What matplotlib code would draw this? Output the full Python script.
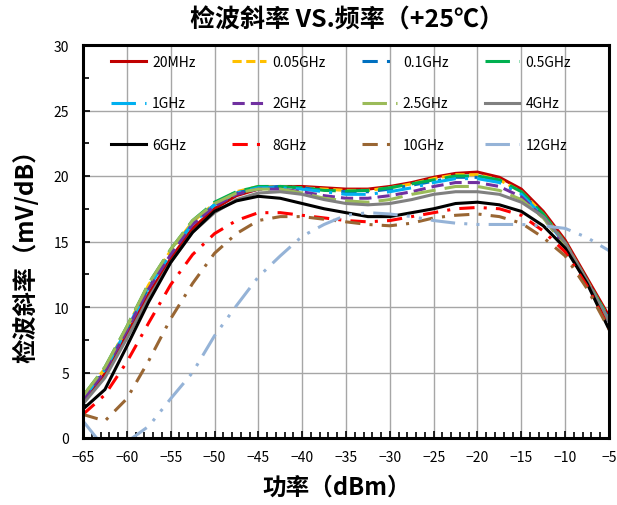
# -*- coding: utf-8 -*-
#------------------------------------------------------------------------------
# Import libraries

import matplotlib
matplotlib.use("Agg")
import matplotlib.pyplot as plt
from matplotlib.ticker import MultipleLocator

plt.rcParams['font.family'] = ['Noto Sans CJK SC', 'DejaVu Sans']

#------------------------------------------------------------------------------
# Data

power = [-65, -62.5, -60, -57.5, -55, -52.5, -50, -47.5, -45, -42.5, -40,
         -37.5, -35, -32.5, -30, -27.5, -25, -22.5, -20, -17.5, -15, -12.5,
         -10, -7.5, -5]

s_20mhz = [2.8, 4.9, 7.9, 11.0, 13.7, 16.0, 17.5, 18.5, 19.0, 19.2, 19.2, 19.1,
           19.0, 19.0, 19.2, 19.5, 19.9, 20.2, 20.3, 19.9, 19.0, 17.3, 15.1, 12.2, 9.3]
s_005 = [3.2, 5.3, 8.4, 11.7, 14.3, 16.5, 17.9, 18.8, 19.2, 19.2, 19.1, 19.0,
         18.9, 18.9, 19.1, 19.4, 19.8, 20.1, 20.1, 19.7, 18.8, 17.1, 14.9, 12.0, 9.1]
s_01 = [3.0, 5.2, 8.3, 11.5, 14.1, 16.4, 17.8, 18.7, 19.1, 19.2, 19.1, 18.9,
        18.8, 18.8, 19.0, 19.3, 19.6, 19.9, 19.9, 19.6, 18.7, 17.0, 14.8, 11.9, 9.0]
s_05 = [3.2, 5.4, 8.5, 11.8, 14.4, 16.6, 18.0, 18.8, 19.2, 19.2, 19.1, 18.9,
        18.85, 18.9, 19.1, 19.4, 19.7, 20.0, 20.0, 19.7, 18.8, 17.1, 14.9, 12.0, 9.1]
s_1 = [3.0, 5.2, 8.3, 11.5, 14.1, 16.4, 17.8, 18.7, 19.1, 19.1, 19.0, 18.8,
       18.6, 18.6, 18.8, 19.1, 19.5, 19.8, 19.8, 19.5, 18.6, 16.9, 14.8, 11.9, 9.0]
s_2 = [2.9, 5.1, 8.2, 11.4, 14.0, 16.3, 17.7, 18.6, 19.0, 19.0, 18.8, 18.5,
       18.3, 18.3, 18.5, 18.8, 19.2, 19.5, 19.5, 19.2, 18.4, 16.8, 14.7, 11.8, 8.9]
s_25 = [3.2, 5.4, 8.5, 11.8, 14.4, 16.6, 17.9, 18.7, 19.0, 19.0, 18.7, 18.3,
        18.1, 18.0, 18.2, 18.6, 18.9, 19.2, 19.2, 18.9, 18.2, 16.8, 14.7, 11.8, 8.9]
s_4 = [2.6, 4.6, 7.6, 10.7, 13.4, 15.7, 17.2, 18.2, 18.7, 18.8, 18.6, 18.2,
       17.9, 17.8, 17.9, 18.2, 18.6, 18.8, 18.8, 18.6, 18.0, 16.9, 14.9, 12.0, 8.9]
s_6 = [2.2, 3.7, 7.0, 10.4, 13.4, 15.7, 17.3, 18.1, 18.45, 18.3, 17.9, 17.5,
       17.2, 16.9, 16.9, 17.2, 17.5, 17.9, 18.0, 17.8, 17.3, 16.2, 14.5, 11.8, 8.3]
s_8 = [1.8, 3.3, 5.8, 8.8, 11.7, 14.0, 15.6, 16.6, 17.2, 17.2, 17.0, 16.8,
       16.6, 16.5, 16.6, 16.9, 17.2, 17.5, 17.6, 17.5, 17.0, 15.8, 14.2, 11.6, 8.4]
s_10 = [1.8, 1.3, 3.0, 5.9, 9.1, 11.8, 14.1, 15.6, 16.6, 16.9, 16.9, 16.7,
        16.5, 16.3, 16.2, 16.4, 16.8, 17.0, 17.1, 16.9, 16.4, 15.3, 13.9, 11.4, 8.3]
s_12 = [1.3, -0.8, -0.3, 0.9, 3.0, 5.0, 7.8, 10.1, 12.3, 13.9, 15.4, 16.3,
        17.0, 17.2, 17.1, 16.9, 16.6, 16.4, 16.3, 16.3, 16.3, 16.2, 16.0, 15.3, 14.3]

labels = ['20MHz', '0.05GHz', '0.1GHz', '0.5GHz',
          '1GHz', '2GHz', '2.5GHz', '4GHz',
          '6GHz', '8GHz', '10GHz', '12GHz']

#------------------------------------------------------------------------------
# Main method

def main():
    series = [s_20mhz, s_005, s_01, s_05, s_1, s_2, s_25, s_4, s_6, s_8, s_10, s_12]
    colors = ['#C00000', '#FFC000', '#0070C0', '#00B050',
              '#00B0F0', '#7030A0', '#9BBB59', '#808080',
              '#000000', '#FF0000', '#996633', '#95B3D7']
    styles = ['-', (0, (3, 1.5)), (0, (5, 3, 1, 3)), (0, (8, 3)),
              (0, (8, 3, 1, 3)), (0, (4, 2)), (0, (8, 3)), '-',
              '-', (0, (5, 3, 1, 3)), (0, (5, 3, 1, 3)), (0, (8, 3, 1, 3, 1, 3))]

    fig = plt.figure(figsize=(6.17, 5.06), dpi=100)
    ax = fig.add_axes([83 / 617, 1 - 439 / 506, 526 / 617, 393 / 506])

    handles = []
    for ys, c, ls, lab in zip(series, colors, styles, labels):
        h, = ax.plot(power, ys, color=c, linestyle=ls, linewidth=2.2, label=lab)
        handles.append(h)

    ax.set_xlim(-65, -5)
    ax.set_ylim(0, 30)
    ax.xaxis.set_major_locator(MultipleLocator(5))
    ax.xaxis.set_minor_locator(MultipleLocator(1))
    ax.yaxis.set_major_locator(MultipleLocator(5))
    ax.yaxis.set_minor_locator(MultipleLocator(2.5))
    ax.grid(True, which='major', color='#A6A6A6', linewidth=1.0)
    ax.set_axisbelow(True)
    ax.tick_params(axis='both', which='both', direction='in', labelsize=10, width=1.2)
    ax.tick_params(axis='both', which='major', length=5)
    ax.tick_params(axis='both', which='minor', length=4)
    ax.tick_params(axis='x', which='major', pad=9)
    ax.tick_params(axis='y', which='major', pad=10)
    for sp in ax.spines.values():
        sp.set_linewidth(2.2)

    # legend filled row by row like the original
    order = [0, 4, 8, 1, 5, 9, 2, 6, 10, 3, 7, 11]
    ax.legend([handles[i] for i in order], [labels[i] for i in order],
              ncol=4, loc='upper left', bbox_to_anchor=(0.035, 1.0),
              frameon=False, fontsize=10, handlelength=2.5, handletextpad=0.45,
              columnspacing=2.6, labelspacing=2.0, borderaxespad=0.3)

    fig.text(347 / 617, 1 - 20 / 506, '检波斜率 VS.频率（+25℃）', fontsize=18,
             fontweight='bold', ha='center', va='center')
    fig.text(337 / 617, 1 - 488 / 506, '功率（dBm）', fontsize=17,
             fontweight='bold', ha='center', va='center')
    fig.text(25 / 617, 1 - 250 / 506, '检波斜率（mV/dB）', fontsize=17.5,
             fontweight='bold', ha='center', va='center', rotation=90)

    fig.savefig('out.png', dpi=100)

#------------------------------------------------------------------------------
# Start main method

if __name__ == "__main__":
    main()
